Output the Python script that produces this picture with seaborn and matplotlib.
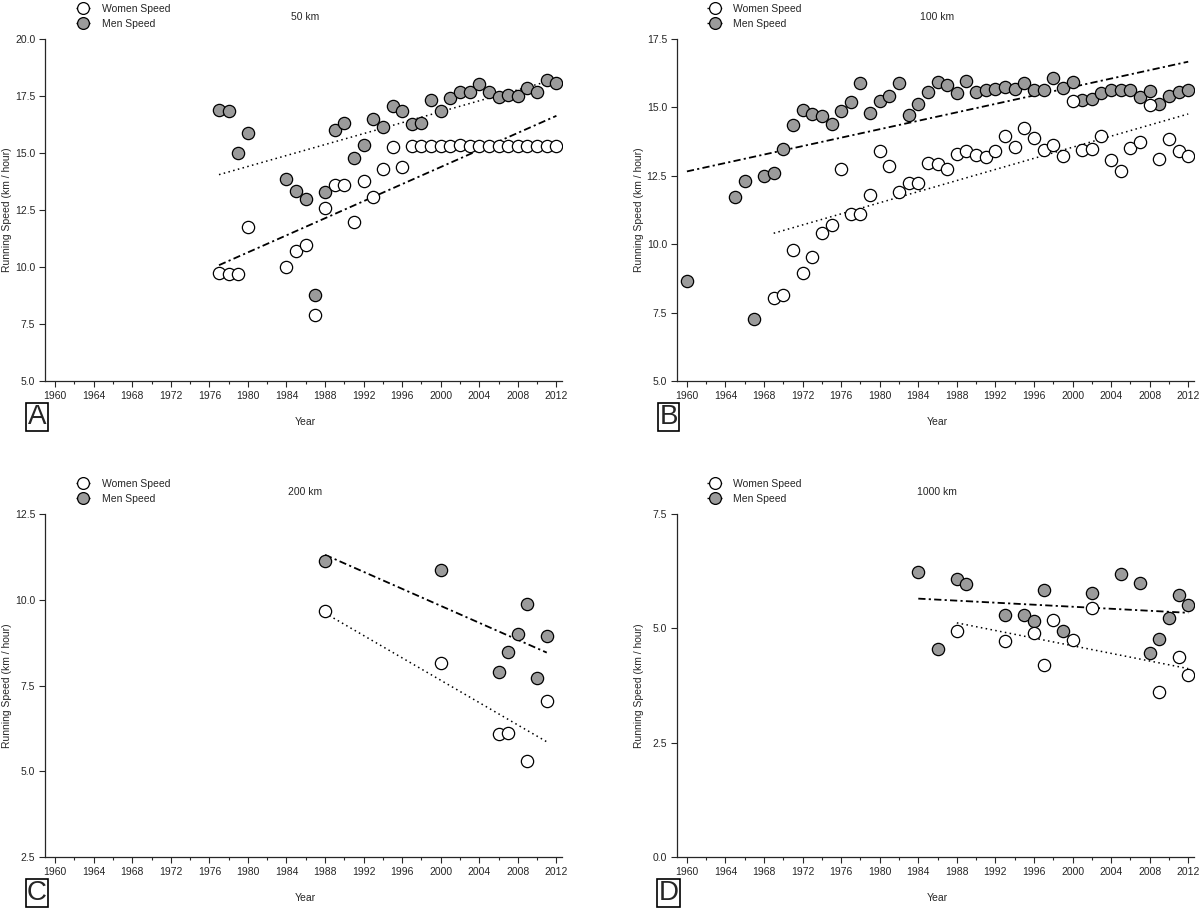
import matplotlib
matplotlib.use('Agg')
import matplotlib.pyplot as plt
from matplotlib.lines import Line2D
from matplotlib.ticker import MultipleLocator, FormatStrFormatter
import seaborn as sns

# Panel A - 50 km
a_women_years = [1977, 1978, 1979, 1980, 1984, 1985, 1986, 1987, 1988, 1989, 1990,
                 1991, 1992, 1993, 1994, 1995, 1996, 1997, 1998, 1999, 2000, 2001,
                 2002, 2003, 2004, 2005, 2006, 2007, 2008, 2009, 2010, 2011, 2012]
a_women_speed = [9.75, 9.68, 9.71, 11.77, 10.0, 10.68, 10.98, 7.89, 12.59, 13.61, 13.61,
                 11.97, 13.77, 13.07, 14.31, 15.26, 14.38, 15.29, 15.29, 15.29, 15.29, 15.29,
                 15.37, 15.29, 15.29, 15.29, 15.29, 15.29, 15.29, 15.29, 15.29, 15.29, 15.29]
a_men_years = [1977, 1978, 1979, 1980, 1984, 1985, 1986, 1987, 1988, 1989, 1990,
               1991, 1992, 1993, 1994, 1995, 1996, 1997, 1998, 1999, 2000, 2001,
               2002, 2003, 2004, 2005, 2006, 2007, 2008, 2009, 2010, 2011, 2012]
a_men_speed = [16.88, 16.82, 15.01, 15.86, 13.84, 13.32, 12.98, 8.79, 13.27, 16.02, 16.31,
               14.78, 15.33, 16.48, 16.15, 17.08, 16.85, 16.28, 16.31, 17.33, 16.83, 17.39,
               17.69, 17.67, 18.03, 17.69, 17.46, 17.55, 17.48, 17.87, 17.69, 18.22, 18.07]
a_dot_years = [1977, 2012]
a_dot_speed = [14.05, 18.25]
a_dashdot_years = [1977, 2012]
a_dashdot_speed = [10.08, 16.63]

# Panel B - 100 km
b_women_years = [1969, 1970, 1971, 1972, 1973, 1974, 1975, 1976, 1977, 1978, 1979,
                 1980, 1981, 1982, 1983, 1984, 1985, 1986, 1987, 1988, 1989, 1990,
                 1991, 1992, 1993, 1994, 1995, 1996, 1997, 1998, 1999, 2000, 2001,
                 2002, 2003, 2004, 2005, 2006, 2007, 2008, 2009, 2010, 2011, 2012]
b_women_speed = [8.05, 8.15, 9.79, 8.94, 9.54, 10.40, 10.71, 12.73, 11.09, 11.12, 11.81,
                 13.40, 12.84, 11.91, 12.23, 12.23, 12.95, 12.94, 12.75, 13.29, 13.40, 13.27,
                 13.17, 13.40, 13.95, 13.56, 14.25, 13.89, 13.45, 13.61, 13.24, 15.25, 13.43,
                 13.49, 13.94, 13.07, 12.66, 13.52, 13.74, 15.10, 13.11, 13.86, 13.41, 13.22]
b_men_years = [1960, 1965, 1966, 1967, 1968, 1969, 1970, 1971, 1972, 1973, 1974,
               1975, 1976, 1977, 1978, 1979, 1980, 1981, 1982, 1983, 1984, 1985,
               1986, 1987, 1988, 1989, 1990, 1991, 1992, 1993, 1994, 1995, 1996,
               1997, 1998, 1999, 2000, 2001, 2002, 2003, 2004, 2005, 2006, 2007,
               2008, 2009, 2010, 2011, 2012]
b_men_speed = [8.66, 11.74, 12.31, 7.26, 12.50, 12.62, 13.49, 14.35, 14.89, 14.76, 14.67,
               14.41, 14.85, 15.19, 15.88, 14.80, 15.23, 15.40, 15.88, 14.74, 15.14, 15.55,
               15.93, 15.81, 15.52, 15.98, 15.55, 15.62, 15.68, 15.74, 15.66, 15.88, 15.62,
               15.65, 16.07, 15.70, 15.91, 15.26, 15.32, 15.53, 15.65, 15.63, 15.63, 15.37,
               15.59, 15.13, 15.41, 15.55, 15.64]
b_dot_years = [1969, 2012]
b_dot_speed = [10.40, 14.76]
b_dashdot_years = [1960, 2012]
b_dashdot_speed = [12.66, 16.67]

# Panel C - 200 km
c_women_years = [1988, 2000, 2006, 2007, 2009, 2011]
c_women_speed = [9.66, 8.17, 6.10, 6.12, 5.30, 7.06]
c_men_years = [1988, 2000, 2006, 2007, 2008, 2009, 2010, 2011]
c_men_speed = [11.12, 10.88, 7.88, 8.49, 9.00, 9.88, 7.72, 8.93]
c_dot_years = [1988, 2011]
c_dot_speed = [9.61, 5.86]
c_dashdot_years = [1988, 2011]
c_dashdot_speed = [11.31, 8.46]

# Panel D - 1000 km
d_women_years = [1988, 1993, 1996, 1997, 1998, 2000, 2002, 2009, 2011, 2012]
d_women_speed = [4.95, 4.73, 4.90, 4.19, 5.19, 4.75, 5.45, 3.61, 4.38, 3.98]
d_men_years = [1984, 1986, 1988, 1989, 1993, 1995, 1996, 1997, 1999, 2002, 2005,
               2007, 2008, 2009, 2010, 2011, 2012]
d_men_speed = [6.24, 4.55, 6.09, 5.97, 5.29, 5.30, 5.17, 5.83, 4.95, 5.78, 6.18,
               5.99, 4.46, 4.77, 5.23, 5.73, 5.50]
d_dot_years = [1988, 2012]
d_dot_speed = [5.12, 4.12]
d_dashdot_years = [1984, 2012]
d_dashdot_speed = [5.65, 5.34]

titles = ['50 km', '100 km', '200 km', '1000 km']
letters = ['A', 'B', 'C', 'D']
y_limits = [(5, 20), (5, 17.5), (2.5, 12.5), (0, 7.5)]

sns.set_style('ticks')
plt.rcParams['font.family'] = ['Liberation Sans', 'DejaVu Sans']

MEN_GRAY = '#9b9b9b'
DOT = (0, (1, 2.2))
DASHDOT = (0, (4, 1.8, 1.2, 1.8))

fig = plt.figure(figsize=(12, 9.13), dpi=100)
positions = [
    [0.0375, 0.5827, 0.431, 0.3746],
    [0.564, 0.5827, 0.431, 0.3746],
    [0.0375, 0.0613, 0.431, 0.3757],
    [0.564, 0.0613, 0.431, 0.3757],
]

panels = [
    (a_women_years, a_women_speed, a_men_years, a_men_speed,
     a_dot_years, a_dot_speed, a_dashdot_years, a_dashdot_speed),
    (b_women_years, b_women_speed, b_men_years, b_men_speed,
     b_dot_years, b_dot_speed, b_dashdot_years, b_dashdot_speed),
    (c_women_years, c_women_speed, c_men_years, c_men_speed,
     c_dot_years, c_dot_speed, c_dashdot_years, c_dashdot_speed),
    (d_women_years, d_women_speed, d_men_years, d_men_speed,
     d_dot_years, d_dot_speed, d_dashdot_years, d_dashdot_speed),
]

for i, (wy, ws, my, ms, dy, ds, ddy, dds) in enumerate(panels):
    ax = fig.add_axes(positions[i])

    # trend lines (behind the markers)
    ax.plot(dy, ds, color='black', linestyle=DOT, linewidth=1.1, zorder=1)
    ax.plot(ddy, dds, color='black', linestyle=DASHDOT, linewidth=1.3, zorder=1)

    sns.scatterplot(x=my, y=ms, ax=ax, color=MEN_GRAY, edgecolor='black',
                    linewidth=0.9, s=78, zorder=3, legend=False)
    sns.scatterplot(x=wy, y=ws, ax=ax, color='white', edgecolor='black',
                    linewidth=0.9, s=78, zorder=4, legend=False)

    ax.set_xlim(1958.95, 2012.6)
    ax.set_ylim(*y_limits[i])
    ax.xaxis.set_major_locator(MultipleLocator(4))
    ax.xaxis.set_minor_locator(MultipleLocator(2))
    ax.yaxis.set_major_locator(MultipleLocator(2.5))
    ax.yaxis.set_major_formatter(FormatStrFormatter('%.1f'))
    ax.tick_params(axis='both', which='major', direction='out', length=4,
                   width=0.8, labelsize=7.5, pad=3)
    ax.tick_params(axis='x', which='minor', direction='out', length=2.5, width=0.8)
    sns.despine(ax=ax)
    for side in ['left', 'bottom']:
        ax.spines[side].set_linewidth(0.9)

    ax.set_xlabel('Year', fontsize=7.5)
    ax.xaxis.set_label_coords(0.503, -0.105)
    ax.set_ylabel('Running Speed (km / hour)', fontsize=7.5)
    ax.yaxis.set_label_coords(-0.063, 0.5)
    ax.text(0.503, 1.064, titles[i], transform=ax.transAxes, ha='center',
            va='center', fontsize=7.5)

    ax.text(-0.0155, -0.105, letters[i], transform=ax.transAxes, ha='center',
            va='center', fontsize=20,
            bbox=dict(boxstyle='square,pad=0.05', facecolor='white',
                      edgecolor='black', linewidth=1.2))

    handles = [
        Line2D([], [], color='black', linestyle=DOT, linewidth=1.0, marker='o',
               markerfacecolor='white', markeredgecolor='black', markersize=8.5,
               markeredgewidth=0.9),
        Line2D([], [], color='black', linestyle=DASHDOT, linewidth=1.0, marker='o',
               markerfacecolor=MEN_GRAY, markeredgecolor='black', markersize=8.5,
               markeredgewidth=0.9),
    ]
    ax.legend(handles, ['Women Speed', 'Men Speed'], loc='upper left',
              bbox_to_anchor=(0.059, 1.102), frameon=False, fontsize=7.5,
              handlelength=1.4, handletextpad=1.1, labelspacing=0.45,
              borderaxespad=0, borderpad=0)

fig.savefig('out.png', dpi=100)
